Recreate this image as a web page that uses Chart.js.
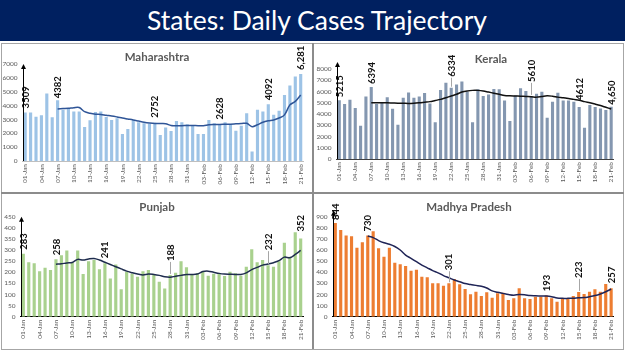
<!DOCTYPE html>
<html>
<head>
<meta charset="utf-8">
<script src="https://cdn.jsdelivr.net/npm/chart.js@4.4.1/dist/chart.umd.min.js"></script>
<style>
  html, body { margin: 0; padding: 0; background: #fff; }
  body { width: 625px; height: 351px; position: relative; overflow: hidden; font-family: Lato, sans-serif; }
  .bar { position: absolute; left: 0; top: 0; width: 625px; height: 41px; background: #002060; }
  .bar h1 { margin: 0; padding-left: 9px; color: #fff; font-weight: 400; font-size: 26.5px; line-height: 40px; text-align: center; }
  .frame { position: absolute; left: 1px; top: 43px; width: 621px; height: 305px; border: 1px solid #a6a6a6; }
  .vline { position: absolute; left: 312px; top: 43px; width: 2px; height: 306px; background: #8c8c8c; }
  .hline { position: absolute; left: 1px; top: 192px; width: 623px; height: 2px; background: #8c8c8c; }
  .panel { position: absolute; }
  .panel canvas { position: absolute; left: 0; top: 0; }
  .ptitle { position: absolute; font-weight: 700; font-size: 11.5px; color: #595959; white-space: nowrap; transform: translate(-50%, -50%); }
</style>
</head>
<body>
<div class="bar"><h1>States: Daily Cases Trajectory</h1></div>
<div class="frame"></div>
<div class="vline"></div>
<div class="hline"></div>

<div class="panel" style="left:2px;top:43px"><canvas id="c1" width="310" height="149"></canvas></div>
<div class="panel" style="left:314px;top:43px"><canvas id="c2" width="308" height="149"></canvas></div>
<div class="panel" style="left:2px;top:194px"><canvas id="c3" width="310" height="154"></canvas></div>
<div class="panel" style="left:314px;top:194px"><canvas id="c4" width="308" height="154"></canvas></div>

<div class="ptitle" style="left:157px;top:56px">Maharashtra</div>
<div class="ptitle" style="left:491px;top:58px">Kerala</div>
<div class="ptitle" style="left:157px;top:206px">Punjab</div>
<div class="ptitle" style="left:469px;top:206px">Madhya Pradesh</div>

<script>
const days = ['01-Jan','02-Jan','03-Jan','04-Jan','05-Jan','06-Jan','07-Jan','08-Jan','09-Jan','10-Jan',
  '11-Jan','12-Jan','13-Jan','14-Jan','15-Jan','16-Jan','17-Jan','18-Jan','19-Jan','20-Jan',
  '21-Jan','22-Jan','23-Jan','24-Jan','25-Jan','26-Jan','27-Jan','28-Jan','29-Jan','30-Jan',
  '31-Jan','01-Feb','02-Feb','03-Feb','04-Feb','05-Feb','06-Feb','07-Feb','08-Feb','09-Feb',
  '10-Feb','11-Feb','12-Feb','13-Feb','14-Feb','15-Feb','16-Feb','17-Feb','18-Feb','19-Feb',
  '20-Feb','21-Feb'];

// daily cases
const maharashtraCases = [3509,3500,3200,3300,4870,3160,4382,3700,3760,3580,
  3580,2460,2940,3540,3580,3180,2960,3080,1950,2310,
  2960,2800,2720,2680,2752,1880,2410,2170,2890,2800,
  2650,2550,1950,1950,2960,2720,2628,2800,2650,2190,
  2550,3450,680,3690,3570,4092,3330,3620,4770,5450,
  6100,6281];
const keralaCases = [5215,4880,5270,4530,2960,5560,6394,4880,5060,5480,
  4470,3050,5450,5920,5450,5560,5860,4940,3260,6130,
  6780,6334,6630,6900,5980,3260,6190,5600,5740,6220,
  6190,5210,3370,5650,6280,6040,5610,5800,5980,3670,
  5090,5890,5210,5210,5090,4612,2780,4800,4620,4500,
  4350,4650];
const punjabCases = [283,245,240,205,220,210,258,276,298,245,
  298,192,250,255,213,241,172,235,124,202,
  193,180,205,210,190,157,127,188,198,250,
  222,190,195,202,184,193,192,183,202,195,
  184,225,304,245,255,232,225,250,333,270,
  380,352];
const mpCases = [844,780,730,725,620,670,730,770,615,540,
  620,486,471,456,414,423,360,354,300,300,
  279,301,339,291,249,201,225,186,219,171,
  210,216,150,165,255,165,159,180,180,193,
  165,135,159,159,186,223,204,225,246,225,
  294,257];

// 7-day average line (starts 07-Jan)
const maharashtraAvg = [null,null,null,null,null,null,
  3760,3780,3800,3850,3860,3560,3450,3380,3360,3300,
  3250,3180,3100,3030,2960,2880,2800,2740,2700,2700,
  2690,2560,2550,2550,2560,2560,2550,2550,2620,2640,
  2640,2650,2660,2680,2700,2720,2480,2620,2800,2900,
  2960,3100,3330,4050,4300,4770];
const keralaAvg = [null,null,null,null,null,null,
  5000,5000,5000,5000,4980,4960,4950,4940,4960,5000,
  5050,5100,5200,5300,5450,5600,5750,5950,6050,6100,
  6100,6050,5950,5850,5750,5650,5620,5600,5580,5560,
  5540,5500,5560,5620,5580,5500,5450,5380,5300,5230,
  5100,5000,4880,4750,4600,4450];
const punjabAvg = [null,null,null,null,null,null,
  236,238,242,244,258,255,260,262,255,245,
  235,225,215,205,198,192,188,192,190,186,
  180,178,182,186,190,190,192,203,205,200,
  195,192,191,190,190,197,212,222,232,237,
  243,252,268,265,280,298];
const mpAvg = [null,null,null,null,null,null,
  726,712,685,665,652,632,600,555,525,495,
  465,440,415,395,370,350,330,315,298,290,
  282,274,258,232,220,210,200,194,200,198,
  190,188,187,186,180,168,165,165,166,170,
  172,180,190,205,225,249];

// labelled bars: [day index, text]
const maharashtraNotes = [[0,'3509'],[6,'4382'],[24,'2752'],[36,'2628'],[45,'4092'],[51,'6,281']];
const keralaNotes = [[0,'5215'],[6,'6394'],[21,'6334'],[36,'5610'],[45,'4612'],[51,'4,650']];
const punjabNotes = [[0,'283'],[6,'258'],[15,'241'],[27,'188'],[45,'232'],[51,'352']];
const mpNotes = [[0,'844'],[6,'730'],[21,'301'],[39,'193'],[45,'223'],[51,'257']];

const yTicks1 = { max: 7000, step: 1000 };
const yTicks2 = { max: 8000, step: 1000 };
const yTicks3 = { max: 450, step: 50 };
const yTicks4 = { max: 900, step: 100 };

const notesPlugin = {
  id: 'notes',
  afterDatasetsDraw(chart, args, opts) {
    const { ctx } = chart;
    const meta = chart.getDatasetMeta(0);
    opts.items.forEach(([i, text], k) => {
      const bar = meta.data[i];
      const lift = opts.lift[k];
      ctx.save();
      if (lift > 8) {
        ctx.strokeStyle = '#a6a6a6';
        ctx.lineWidth = 1;
        ctx.beginPath();
        ctx.moveTo(Math.round(bar.x) + 0.5, bar.y - 1);
        ctx.lineTo(Math.round(bar.x) + 0.5, bar.y - lift + 1);
        ctx.stroke();
      }
      ctx.translate(bar.x + 0.5, bar.y - lift);
      ctx.rotate(-Math.PI / 2);
      ctx.font = 'bold 9.5px Lato';
      ctx.fillStyle = '#111';
      ctx.textAlign = 'left';
      ctx.textBaseline = 'middle';
      ctx.fillText(text, 0, 0);
      ctx.restore();
    });
  },
  afterDraw(chart, args, opts) {
    // y axis with arrow head
    const { ctx, chartArea } = chart;
    const x = Math.round(chartArea.left) + 0.5;
    const top = chartArea.top - opts.arrowUp;
    ctx.save();
    ctx.strokeStyle = '#000';
    ctx.fillStyle = '#000';
    ctx.lineWidth = 1;
    ctx.beginPath();
    ctx.moveTo(x, chartArea.bottom);
    ctx.lineTo(x, top + 3);
    ctx.stroke();
    ctx.beginPath();
    ctx.moveTo(x, top);
    ctx.lineTo(x - 2.5, top + 5);
    ctx.lineTo(x + 2.5, top + 5);
    ctx.closePath();
    ctx.fill();
    ctx.restore();
  }
};

function makeChart(id, cases, avg, barColor, lineColor, yt, notes, lift, box) {
  new Chart(document.getElementById(id), {
    type: 'bar',
    data: {
      labels: days,
      datasets: [{
        type: 'bar',
        data: cases,
        backgroundColor: barColor,
        categoryPercentage: 1,
        barPercentage: 0.58,
        order: 2,
      }, {
        type: 'line',
        data: avg,
        borderColor: lineColor,
        borderWidth: 1.5,
        pointRadius: 0,
        tension: 0.35,
        fill: false,
        order: 1,
      }],
    },
    options: {
      responsive: false,
      animation: false,
      layout: { padding: { top: box.top, right: box.right, left: 0, bottom: 0 } },
      plugins: {
        legend: { display: false },
        tooltip: { enabled: false },
        notes: { items: notes, lift: lift, arrowUp: box.arrow },
      },
      scales: {
        x: {
          grid: { display: false, drawTicks: false },
          border: { display: true, color: box.axisColor, width: 1 },
          ticks: {
            autoSkip: false,
            maxRotation: 90,
            minRotation: 90,
            padding: 3,
            color: '#595959',
            font: { family: 'Lato', size: 6.5 },
            callback(v, i) { return i % 3 === 0 ? days[i] : ''; },
          },
          afterFit(s) { s.height = box.xh; },
        },
        y: {
          min: 0,
          max: yt.max,
          grid: { display: false, drawTicks: false },
          border: { display: false },
          ticks: {
            stepSize: yt.step,
            padding: 5,
            color: '#595959',
            font: { family: 'Lato', size: 6.5 },
            callback(v) { return String(v); },
          },
          afterFit(s) { s.width = box.yw; },
        },
      },
    },
    plugins: [notesPlugin],
  });
}

makeChart('c1', maharashtraCases, maharashtraAvg, '#9dc3e6', '#2f5597', yTicks1,
  maharashtraNotes, [4, 2, 5, 5, 4, 4],
  { top: 21, right: 8.6, xh: 31, yw: 20.5, arrow: 0, axisColor: '#bfbfbf' });
makeChart('c2', keralaCases, keralaAvg, '#8497b0', '#111111', yTicks2,
  keralaNotes, [3, 3, 11, 14, 7, 2],
  { top: 26, right: 3, xh: 33, yw: 22.6, arrow: 7, axisColor: '#404040' });
makeChart('c3', punjabCases, punjabAvg, '#a9d18e', '#1f2d4e', yTicks3,
  punjabNotes, [4, 4, 5, 14, 15, 7],
  { top: 22.7, right: 8.6, xh: 31.3, yw: 18.6, arrow: 0, axisColor: '#000' });
makeChart('c4', mpCases, mpAvg, '#ed7d31', '#1f2456', yTicks4,
  mpNotes, [3, 4, 13, 4, 14, 5],
  { top: 22.7, right: 5.6, xh: 31.3, yw: 18.6, arrow: 6, axisColor: '#000' });
</script>
</body>
</html>
